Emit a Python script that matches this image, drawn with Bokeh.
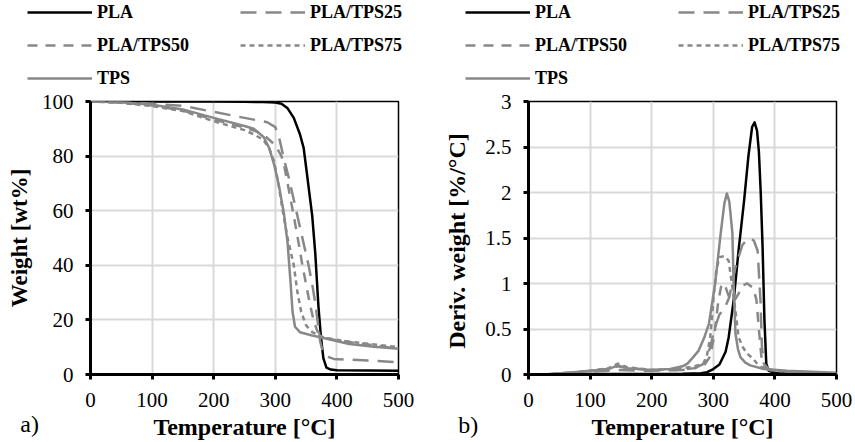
from bokeh.plotting import figure
from bokeh.layouts import row, column
from bokeh.models import Range1d, FixedTicker, Legend, LegendItem, NumeralTickFormatter
from bokeh.core.properties import value
from bokeh.embed import file_html
from bokeh.resources import INLINE

# ---------------- data: TGA weight (%) ----------------
PLA_T = [0, 50, 100, 150, 200, 250, 280, 300, 310, 320, 330, 340, 346, 350, 355, 360, 365, 370, 374, 378, 383, 390, 400, 450, 500]
PLA_W = [100, 100, 100, 100, 100, 99.9, 99.8, 99.6, 99.2, 97.5, 94, 88, 83, 76, 67, 58, 44, 25, 14, 6, 2.5, 1.8, 1.6, 1.5, 1.4]

TPS25_T = [0, 50, 100, 150, 200, 250, 287, 300, 307, 314, 322, 330, 341, 348, 354, 360, 365, 369, 373, 377, 385, 395, 450, 500]
TPS25_W = [100, 99.8, 99.2, 98.4, 96.2, 94, 92.4, 90.6, 86, 79, 72, 64, 53, 46, 40, 33, 26, 19, 12, 8.5, 6.5, 5.7, 5.1, 4.5]

TPS50_T = [0, 50, 100, 150, 200, 250, 270, 285, 300, 310, 314, 320, 330, 338, 344, 350, 356, 362, 368, 378, 400, 450, 500]
TPS50_W = [100, 99.6, 98.5, 96.7, 93.4, 90.5, 89, 87, 84, 80, 77, 70, 58, 48, 40, 33, 26, 20, 16, 13.5, 12.5, 11, 9.5]

TPS75_T = [0, 50, 100, 150, 200, 250, 265, 280, 290, 298, 305, 312, 320, 330, 336, 342, 350, 360, 380, 420, 500]
TPS75_W = [100, 99.5, 98.3, 96.5, 92.8, 89.5, 88, 86, 83, 78, 70, 60, 50, 40, 30, 23, 18, 15.5, 13.5, 12, 10]

TPS_T = [0, 50, 100, 150, 200, 250, 265, 281, 290, 298, 306, 314, 320, 325, 328, 332, 340, 360, 380, 420, 460, 500]
TPS_W = [100, 99.7, 98.8, 97.1, 94, 91, 90, 87, 83, 77, 69, 59, 48, 33, 23, 17.5, 15.5, 14.3, 13.3, 11.2, 10.2, 9.4]

# ---------------- data: DTG (%/°C) ----------------
dPLA_T = [25, 100, 200, 250, 280, 290, 300, 310, 320, 325, 333, 341, 350, 357, 363, 367, 371, 374, 377, 380, 383, 386, 390, 400, 450, 500]
dPLA = [0, 0.005, 0.005, 0.008, 0.015, 0.025, 0.06, 0.11, 0.25, 0.41, 0.81, 1.36, 1.91, 2.4, 2.72, 2.77, 2.68, 2.45, 2.0, 1.4, 0.6, 0.12, 0.04, 0.02, 0.01, 0.005]

dTPS25_T = [25, 50, 100, 145, 200, 250, 270, 285, 295, 302, 310, 318, 326, 336, 347, 354, 360, 366, 372, 376.6, 379, 382, 390, 400, 450, 500]
dTPS25 = [0, 0.01, 0.03, 0.05, 0.04, 0.05, 0.07, 0.12, 0.3, 0.5, 0.66, 0.72, 0.85, 1.18, 1.42, 1.48, 1.5, 1.47, 1.36, 0.81, 0.3, 0.12, 0.06, 0.04, 0.02, 0.01]

dTPS50_T = [25, 50, 100, 130, 145, 160, 200, 240, 270, 285, 295, 302, 308, 313, 318, 323, 328, 335, 342, 348, 355, 365, 370, 374, 378, 382, 390, 420, 500]
dTPS50 = [0, 0.01, 0.04, 0.06, 0.09, 0.07, 0.05, 0.05, 0.07, 0.1, 0.2, 0.45, 0.8, 0.98, 1.0, 0.9, 0.81, 0.82, 0.9, 0.98, 1.0, 0.95, 0.82, 0.5, 0.2, 0.08, 0.05, 0.03, 0.01]

dTPS75_T = [25, 50, 100, 130, 145, 160, 200, 240, 270, 284, 290, 295, 301, 305, 310, 318, 325, 330, 336, 341, 348, 355, 365, 371, 380, 400, 500]
dTPS75 = [0, 0.01, 0.04, 0.07, 0.12, 0.08, 0.05, 0.06, 0.09, 0.12, 0.22, 0.41, 0.89, 1.15, 1.29, 1.3, 1.25, 1.0, 0.7, 0.41, 0.3, 0.23, 0.17, 0.12, 0.07, 0.04, 0.01]

dTPS_T = [25, 50, 100, 130, 145, 160, 200, 230, 250, 258, 266, 276, 285, 293, 303, 312, 318, 322, 326, 331, 333, 336, 340, 344, 352, 360, 382, 420, 500]
dTPS = [0, 0.01, 0.04, 0.06, 0.1, 0.07, 0.05, 0.06, 0.09, 0.12, 0.18, 0.26, 0.4, 0.56, 1.0, 1.55, 1.88, 1.99, 1.9, 1.55, 1.0, 0.45, 0.28, 0.19, 0.13, 0.1, 0.06, 0.04, 0.02]

names = ["PLA", "PLA/TPS25", "PLA/TPS50", "PLA/TPS75", "TPS"]
x_ticks = [0, 100, 200, 300, 400, 500]
yA_ticks = [0, 20, 40, 60, 80, 100]
yB_ticks = [0, 0.5, 1, 1.5, 2, 2.5, 3]

GRAY = "#888888"
styles = [
    dict(color="black", width=2.5, dash="solid"),
    dict(color=GRAY, width=2.5, dash="16 9"),
    dict(color=GRAY, width=2.5, dash="10 8"),
    dict(color=GRAY, width=2.5, dash="5 4"),
    dict(color=GRAY, width=2.5, dash="solid"),
]
FONT = "Liberation Serif"
LEG_H = 89


def add_lines(p, xs, ys, visible=True):
    rends = []
    for (tx, vy), st in zip(zip(xs, ys), styles):
        r = p.line(tx, vy, line_color=st["color"], line_width=st["width"],
                   line_dash=st["dash"], line_join="round", visible=visible)
        rends.append(r)
    return rends


def make_legend_fig(width, legend_x, xs, ys, ymax):
    lf = figure(width=width, height=LEG_H, output_backend="svg", toolbar_location=None,
                x_range=Range1d(0, 500), y_range=Range1d(0, ymax),
                x_axis_location=None, y_axis_location=None,
                min_border_left=0, min_border_right=0, min_border_top=0, min_border_bottom=0)
    lf.xgrid.visible = False
    lf.ygrid.visible = False
    lf.outline_line_color = None
    lf.background_fill_color = "white"
    lf.border_fill_color = "white"
    rends = add_lines(lf, xs, ys, visible=False)
    items = [LegendItem(label=n, renderers=[r]) for n, r in zip(names, rends)]
    leg = Legend(items=items, location=(legend_x, 0.5), orientation="horizontal", ncols=2,
                 padding=0, margin=0, spacing=12, glyph_width=65, glyph_height=20,
                 label_height=20, label_standoff=5, label_width=131,
                 label_text_font=FONT, label_text_font_style="bold",
                 label_text_font_size="18px", label_text_color="black",
                 background_fill_alpha=0, border_line_alpha=0)
    lf.add_layout(leg)
    return lf


def make_panel(width, border_left, border_right, xs, ys, ymax, yticks, ylabel, ylabel_size,
               ylabel_standoff, tag, tag_x, tag_y, fmt=None):
    p = figure(width=width, height=442 - LEG_H, output_backend="svg", toolbar_location=None,
               x_range=Range1d(0, 500), y_range=Range1d(0, ymax),
               min_border_left=border_left, min_border_right=border_right,
               min_border_top=101 - LEG_H, min_border_bottom=68)
    p.outline_line_color = "black"
    p.outline_line_width = 1.5
    p.background_fill_color = "white"
    p.border_fill_color = "white"
    for g in (p.xgrid[0], p.ygrid[0]):
        g.grid_line_color = "#d9d9d9"
        g.grid_line_width = 2
    p.xaxis.ticker = FixedTicker(ticks=x_ticks)
    p.yaxis.ticker = FixedTicker(ticks=yticks)
    if fmt is not None:
        p.yaxis.formatter = fmt
    for ax in (p.xaxis[0], p.yaxis[0]):
        ax.axis_line_width = 3
        ax.axis_line_color = "black"
        ax.major_tick_line_width = 3
        ax.major_tick_in = 0
        ax.major_tick_out = 5
        ax.minor_tick_line_color = None
        ax.major_label_text_font = FONT
        ax.major_label_text_font_size = "21px"
        ax.major_label_text_color = "black"
        ax.axis_label_text_font = FONT
        ax.axis_label_text_font_style = "bold"
        ax.axis_label_text_color = "black"
    p.xaxis.axis_label = "Temperature [°C]"
    p.xaxis.axis_label_text_font_size = "24px"
    p.xaxis.major_label_standoff = 13
    p.xaxis.axis_label_standoff = 4
    p.yaxis.axis_label = ylabel
    p.yaxis.axis_label_text_font_size = ylabel_size
    p.yaxis.major_label_standoff = 12
    p.yaxis.axis_label_standoff = ylabel_standoff
    add_lines(p, xs, ys)
    # panel tag, drawn at overlay level so it is not clipped to the frame
    p.text(x=[tag_x], y=[tag_y], text=[tag], text_font=value(FONT), text_font_size="24px",
           text_baseline="middle", text_align="left", text_color="black", level="overlay")
    return p


xsA = [PLA_T, TPS25_T, TPS50_T, TPS75_T, TPS_T]
ysA = [PLA_W, TPS25_W, TPS50_W, TPS75_W, TPS_W]
xsB = [dPLA_T, dTPS25_T, dTPS50_T, dTPS75_T, dTPS_T]
ysB = [dPLA, dTPS25, dTPS50, dTPS75, dTPS]

legA = make_legend_fig(428, 27, xsA, ysA, 100)
legB = make_legend_fig(427, 37, xsB, ysB, 3)
pA = make_panel(428, 90, 30, xsA, ysA, 100, yA_ticks, "Weight [wt%]", "23px", 7,
                "a)", -114, -18.3)
pB = make_panel(427, 100, 19, xsB, ysB, 3, yB_ticks, "Deriv. weight  [%/°C]", "24px", 12,
                "b)", -114, -0.55, fmt=NumeralTickFormatter(format="0.[0]"))

layout = column(row(legA, legB), row(pA, pB))
open("out.html", "w").write(file_html(layout, INLINE))
